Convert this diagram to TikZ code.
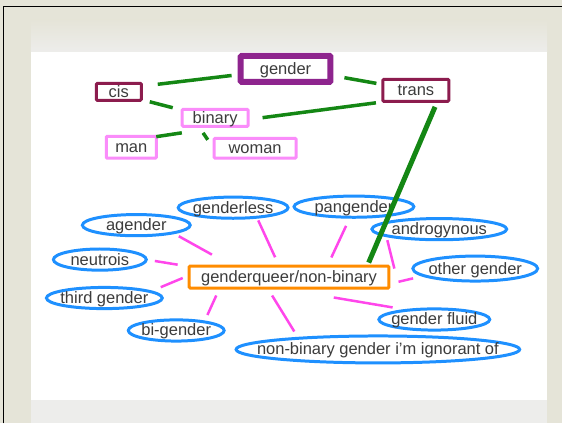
\documentclass[tikz,border=0pt]{standalone}
\usepackage{fontspec}
\setmainfont{Liberation Sans}
\usetikzlibrary{shapes.geometric}

\definecolor{frame}{RGB}{229,228,216}
\definecolor{band}{RGB}{237,237,235}
\definecolor{ink}{RGB}{60,60,60}
\definecolor{tiegreen}{RGB}{20,135,20}
\definecolor{spokepink}{RGB}{255,70,235}
\definecolor{topviolet}{RGB}{142,36,142}
\definecolor{maroon}{RGB}{140,28,78}
\definecolor{softpink}{RGB}{250,140,250}
\definecolor{huborange}{RGB}{255,140,0}
\definecolor{tagblue}{RGB}{30,144,255}

\tikzset{
  box/.style={rectangle, rounded corners=1pt, inner sep=0pt, outer sep=0pt},
  tag/.style={ellipse, draw=tagblue, line width=3pt, inner sep=0pt, outer sep=0pt},
  tie/.style={draw=tiegreen, line width=3.5pt},
  spoke/.style={draw=spokepink, line width=2.5pt}
}

\begin{document}
\begin{tikzpicture}[x=1pt, y=-1pt,
  every node/.style={text=ink, text height=13pt, text depth=2pt},
  font=\fontsize{16.5}{19}\selectfont]
  % slide background
  \fill[frame] (0,0) rectangle (563,424);
  \shade[top color=frame, bottom color=band] (31,20) rectangle (548,52);
  \fill[band] (31,401) rectangle (548,424);
  \fill[white] (31,52) rectangle (548,401);
  \draw[line width=1.8pt] (3.5,424) -- (3.5,6.5) -- (563,6.5);

  % upper part
  \node[box, draw=topviolet, line width=6pt, minimum width=90pt, minimum height=26pt] (gender) at (286,69) {gender};
  \node[box, draw=maroon, line width=3pt, minimum width=45pt, minimum height=17pt] (cis) at (119,92) {cis};
  \node[box, draw=maroon, line width=3pt, minimum width=66pt, minimum height=22pt] (trans) at (416.5,90.5) {trans};
  \node[box, draw=softpink, line width=3pt, minimum width=66pt, minimum height=17pt] (binary) at (215.5,118) {binary};
  \node[box, draw=softpink, line width=3pt, minimum width=50pt, minimum height=22pt] (man) at (131.5,147.5) {man};
  \node[box, draw=softpink, line width=3pt, minimum width=82pt, minimum height=20pt] (woman) at (255.5,148.5) {woman};

  % hub
  \node[box, draw=huborange, line width=3pt, minimum width=200pt, minimum height=22pt] (gq) at (289.5,277.5) {genderqueer/non-binary};

  % ellipses round the hub
  \node[tag, minimum width=110pt, minimum height=17pt, label=center:genderless] (genderless) at (233.5,208) {};
  \node[tag, minimum width=120pt, minimum height=17pt, label=center:pangender] (pangender) at (354.5,207) {};
  \node[tag, minimum width=108pt, minimum height=18pt, label=center:agender] (agender) at (136.5,225.5) {};
  \node[tag, minimum width=135pt, minimum height=12pt, label=center:androgynous] (androgynous) at (440,229.5) {};
  \node[tag, minimum width=93pt, minimum height=13pt, label=center:neutrois] (neutrois) at (100,260) {};
  \node[tag, minimum width=125pt, minimum height=25pt, label=center:other gender] (other) at (476,269) {};
  \node[tag, minimum width=116pt, minimum height=20pt, label=center:third gender] (third) at (104.5,298.5) {};
  \node[tag, minimum width=96pt, minimum height=19pt, label=center:bi-gender] (bigender) at (176.5,331) {};
  \node[tag, minimum width=111pt, minimum height=21pt, label=center:gender fluid] (fluid) at (435,320) {};
  \node[tag, minimum width=284pt, minimum height=27pt, label=center:non-binary gender i'm ignorant of] (ignorant) at (378.5,350) {};

  % green ties
  \draw[tie, shorten <=16.6pt, shorten >=9.1pt] (cis.14.9) -- (gender.-173.8);
  \draw[tie, shorten <=14.2pt, shorten >=6.6pt] (gender.-8.1) -- (trans.170.9);
  \draw[tie, shorten <=8.8pt, shorten >=9.8pt] (cis.-19.1) -- (binary.167.2);
  \draw[tie, shorten <=11.4pt, shorten >=14.6pt] (trans.-159.4) -- (binary.-3.3);
  \draw[tie, shorten <=44pt] (binary.-40.4) -- (man.23);
  \draw[tie, shorten <=8pt, shorten >=11.2pt] (binary.-153.6) -- (woman.-179.2);
  \draw[tie, line width=5pt, shorten <=6pt, shorten >=3.8pt] (trans.-27.8) -- (gq.8.2);

  % pink spokes
  \draw[spoke, shorten <=6.8pt, shorten >=23.6pt] (agender.-12.5) -- (gq.169.6);
  \draw[spoke, shorten <=3.5pt, shorten >=9.7pt] (genderless.-22.9) -- (gq.132);
  \draw[spoke, shorten <=9.5pt, shorten >=9.5pt] (pangender.-110.6) -- (gq.16.9);
  \draw[spoke, shorten <=4.7pt] (androgynous.-173.4) -- ([shift={(5.5,2.5)}]gq.north east);
  \draw[spoke, shorten <=8.7pt, shorten >=11.7pt] (neutrois.-0.6) -- (gq.174.6);
  \draw[spoke, shorten <=11.4pt, shorten >=7pt] (third.8.1) -- (gq.179.4);
  \draw[spoke, shorten <=11.4pt, shorten >=9.9pt] (other.-172.4) -- (gq.-4.7);
  \draw[spoke, shorten <=7.6pt, shorten >=8.2pt] (bigender.17.7) -- (gq.-171.3);
  \draw[spoke, shorten <=8pt, shorten >=8.8pt] (ignorant.172.1) -- (gq.-153.5);
  \draw[spoke, shorten <=16.2pt, shorten >=57pt] (fluid.160.3) -- (gq.-136.3);
\end{tikzpicture}
\end{document}
